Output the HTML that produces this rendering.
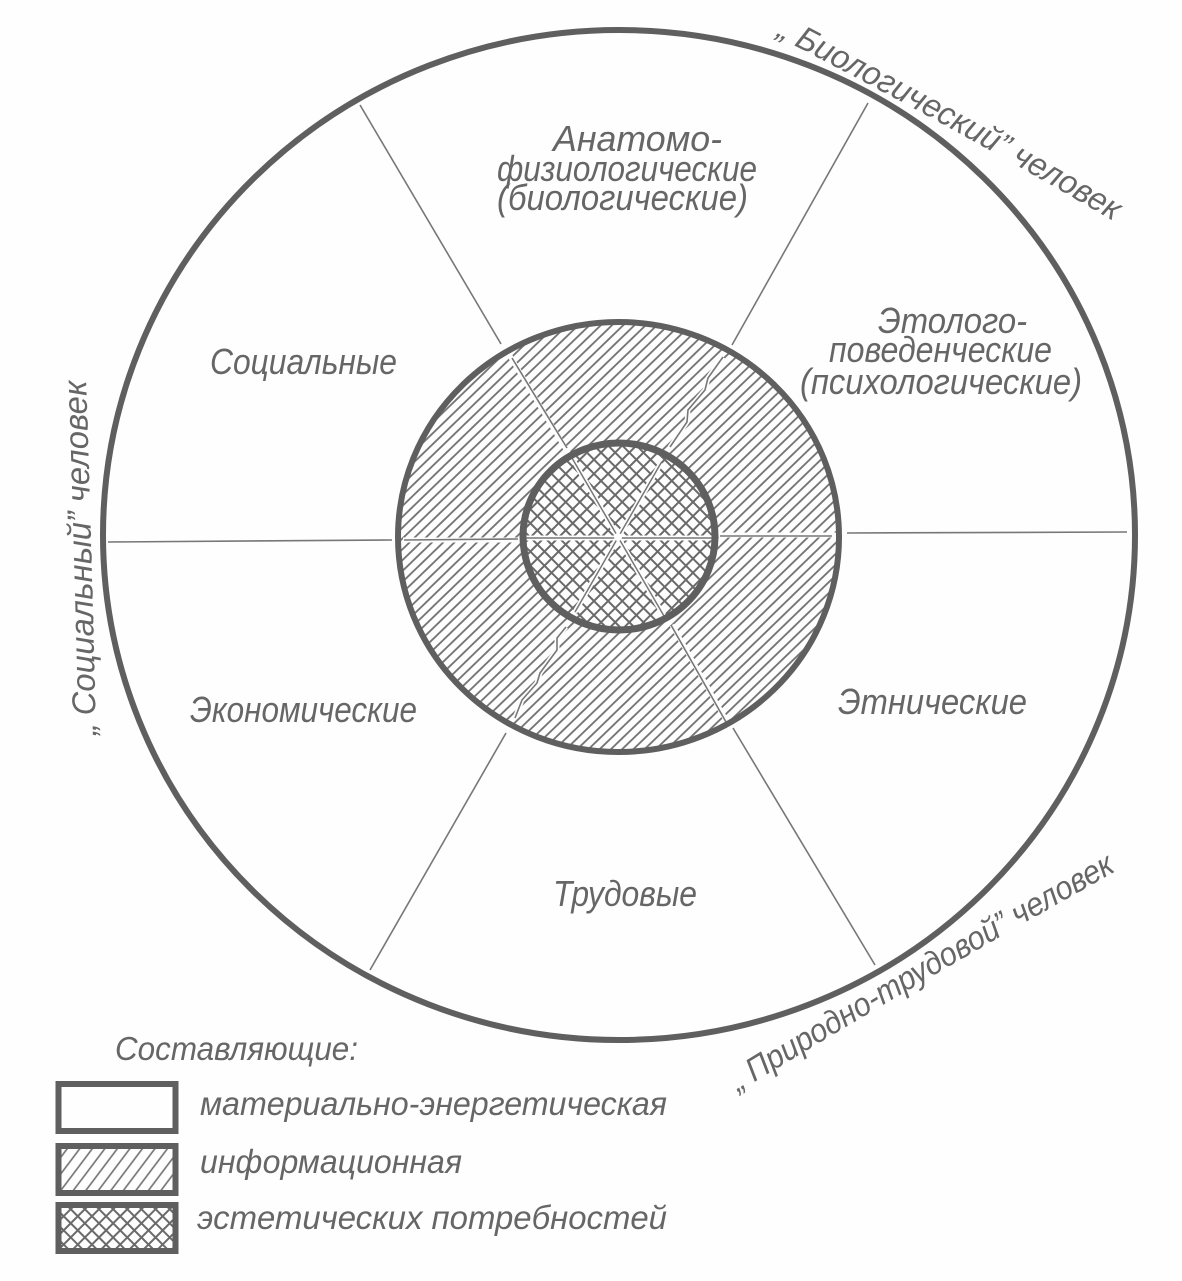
<!DOCTYPE html>
<html lang="ru"><head><meta charset="utf-8"><title>Составляющие</title>
<style>html,body{margin:0;padding:0;background:#fefefe}svg{display:block}
text{font-family:"Liberation Sans","DejaVu Sans",sans-serif;font-style:italic;fill:#666;font-size:36px}
.c{font-size:33px}.l{font-size:33px}</style></head><body>
<svg width="1182" height="1281" viewBox="0 0 1182 1281" xmlns="http://www.w3.org/2000/svg">
<defs>
<pattern id="h" width="7.8" height="7.8" patternUnits="userSpaceOnUse" patternTransform="rotate(46)">
<rect width="7.8" height="7.8" fill="#fefefe"/><line x1="3.9" y1="0" x2="3.9" y2="7.8" stroke="#707070" stroke-width="1.8"/></pattern>
<pattern id="x" width="10" height="10" patternUnits="userSpaceOnUse" patternTransform="rotate(45)">
<rect width="10" height="10" fill="#fefefe"/><line x1="5" y1="0" x2="5" y2="10" stroke="#6a6a6a" stroke-width="2"/><line x1="0" y1="5" x2="10" y2="5" stroke="#6a6a6a" stroke-width="2"/></pattern>
<pattern id="h2" width="10" height="10" patternUnits="userSpaceOnUse" patternTransform="rotate(37)">
<rect width="10" height="10" fill="#fefefe"/><line x1="5" y1="0" x2="5" y2="10" stroke="#707070" stroke-width="1.6"/></pattern>
<path id="p1" d="M776 36 Q950 125 1115 222"/>
<path id="p2" d="M96 735 Q92 560 86 378"/>
<path id="p3" d="M738 1092 Q930 975 1118 870"/>
</defs>
<rect width="1182" height="1281" fill="#fefefe"/>
<ellipse cx="619" cy="535" rx="516" ry="505" fill="none" stroke="#5f5f5f" stroke-width="6"/>
<ellipse cx="618.500" cy="537" rx="220.500" ry="215" fill="url(#h)"/>
<g stroke="#fefefe" stroke-width="5" fill="none">
<path d="M510 356L570 456M403 540H520M716 535H837M672 625L726 720"/>
<path d="M723 357L708 378L705 390L688 410L687 422L670 447M566 627L557 638L557 650L540 673L537 683L522 700L515 718"/>
</g>
<g stroke="#777" stroke-width="1.6" fill="none">
<path d="M360 105L501 344M512 358L567 448M868 103L732 345M108 542L392 540M404 540L518 539M847 533L1127 532M720 536L832 536M370 970L506 733M875 965L733 728M671 625L726 722"/>
<path d="M723 357L708 378L705 390L688 410L687 422L670 447M566 627L557 638L557 650L540 673L537 683L522 700L515 718"/>
</g>
<ellipse cx="619" cy="536.500" rx="96" ry="93.500" fill="url(#x)"/>
<g stroke="#fefefe" stroke-width="5" fill="none"><path d="M572 458L664 616M661 463L575 612M523 538H714"/></g>
<g stroke="#777" stroke-width="1.5" fill="none"><path d="M572 458L664 616M661 463L575 612M523 538H714"/></g>
<circle cx="618" cy="537" r="4" fill="#fff"/>
<ellipse cx="618.500" cy="537" rx="220.500" ry="215" fill="none" stroke="#5f5f5f" stroke-width="6"/>
<ellipse cx="619" cy="536.500" rx="96" ry="93.500" fill="none" stroke="#5f5f5f" stroke-width="7"/>

<text x="553" y="151" textLength="169" lengthAdjust="spacingAndGlyphs">Анатомо-</text>
<text x="497" y="181" textLength="260" lengthAdjust="spacingAndGlyphs">физиологические</text>
<text x="497" y="210" textLength="251" lengthAdjust="spacingAndGlyphs">(биологические)</text>
<text x="878" y="333" textLength="149" lengthAdjust="spacingAndGlyphs">Этолого-</text>
<text x="829" y="362" textLength="223" lengthAdjust="spacingAndGlyphs">поведенческие</text>
<text x="800" y="394" textLength="282" lengthAdjust="spacingAndGlyphs">(психологические)</text>
<text x="210" y="374" textLength="187" lengthAdjust="spacingAndGlyphs">Социальные</text>
<text x="190" y="722" textLength="227" lengthAdjust="spacingAndGlyphs">Экономические</text>
<text x="838" y="714" textLength="189" lengthAdjust="spacingAndGlyphs">Этнические</text>
<text x="553" y="906" textLength="144" lengthAdjust="spacingAndGlyphs">Трудовые</text>

<text class="c"><textPath href="#p1" textLength="385" lengthAdjust="spacingAndGlyphs">„ Биологический” человек</textPath></text>
<text class="c"><textPath href="#p2" textLength="355" lengthAdjust="spacingAndGlyphs">„ Социальный” человек</textPath></text>
<text class="c"><textPath href="#p3" textLength="438" lengthAdjust="spacingAndGlyphs">„ Природно-трудовой” человек</textPath></text>

<text class="l" x="115" y="1060" textLength="243" lengthAdjust="spacingAndGlyphs">Составляющие:</text>
<rect x="58.500" y="1084" width="117" height="47" fill="#fefefe" stroke="#5f5f5f" stroke-width="6"/>
<rect x="58.500" y="1146" width="117" height="47" fill="url(#h2)" stroke="#5f5f5f" stroke-width="6"/>
<rect x="58.500" y="1205" width="117" height="46" fill="url(#x)" stroke="#5f5f5f" stroke-width="6"/>
<text class="l" x="200" y="1115" textLength="467" lengthAdjust="spacingAndGlyphs">материально-энергетическая</text>
<text class="l" x="200" y="1173" textLength="262" lengthAdjust="spacingAndGlyphs">информационная</text>
<text class="l" x="197" y="1229" textLength="470" lengthAdjust="spacingAndGlyphs">эстетических потребностей</text>
</svg></body></html>
